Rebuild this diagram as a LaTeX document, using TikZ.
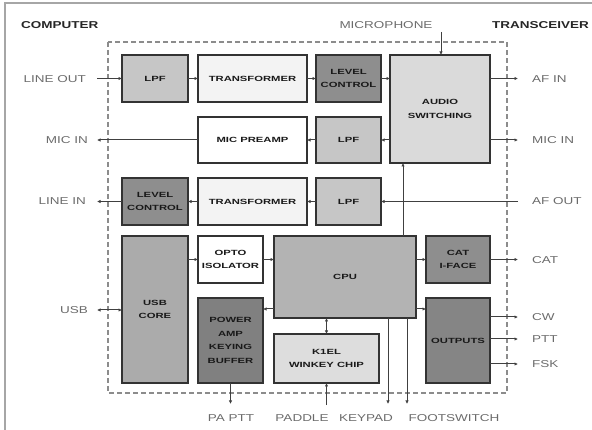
\documentclass[tikz,border=0pt]{standalone}
\usepackage{fontspec}
\setmainfont{Liberation Sans}
\newfontfamily\lblfont[FakeStretch=1.35]{Liberation Sans}
\newfontfamily\hdrfont[FakeStretch=1.35]{Liberation Sans Bold}
\newfontfamily\blkfont[FakeStretch=1.5]{Liberation Sans Bold}
\usetikzlibrary{arrows.meta, positioning}
\definecolor{lpfgray}{HTML}{C6C6C6}
\definecolor{trfgray}{HTML}{F3F3F3}
\definecolor{lvlgray}{HTML}{8E8E8E}
\definecolor{swgray}{HTML}{DADADA}
\definecolor{usbgray}{HTML}{ABABAB}
\definecolor{cpugray}{HTML}{B3B3B3}
\definecolor{pagray}{HTML}{808080}
\definecolor{wkgray}{HTML}{DDDDDD}
\definecolor{outgray}{HTML}{858585}
\tikzstyle{block} = [rectangle, draw=black!80, line width=1.6pt, inner sep=1pt, outer sep=0pt,
    anchor=north west, align=center, text=black!90, font=\blkfont\fontsize{7.5}{13.5}\selectfont]
\tikzstyle{narrow} = [minimum width=66pt]
\tikzstyle{wide} = [minimum width=109pt]
\tikzstyle{row} = [minimum height=47pt]
\tikzstyle{lbl} = [inner sep=0pt, text=black!58, font=\lblfont\fontsize{10}{12}\selectfont]
\tikzstyle{hdr} = [inner sep=0pt, text=black!85, font=\hdrfont\fontsize{10}{12}\selectfont]
\tikzstyle{arrow} = [line width=1pt, draw=black!75, -{Latex[length=3.5pt,width=3.5pt]}]
\tikzstyle{dblarrow} = [line width=1pt, draw=black!75, {Latex[length=3.5pt,width=3.5pt]}-{Latex[length=3.5pt,width=3.5pt]}]

\begin{document}
\begin{tikzpicture}[x=1pt, y=-1pt]
  \useasboundingbox (0,0) rectangle (592,430);
  \draw[black!35, line width=2pt] (5,430) -- (5,3) -- (592,3);
  \draw[black!45, line width=1.2pt, dash pattern=on 5pt off 3pt] (108,42) rectangle (507,393);

  \node (computer)    [hdr, anchor=west] at (21,25) {COMPUTER};
  \node (transceiver) [hdr, anchor=east] at (589,25) {TRANSCEIVER};
  \node (microphone)  [lbl] at (386,25) {MICROPHONE};

  \node (lpfa)  [block, narrow, row, fill=lpfgray] at (122,55) {LPF};
  \node (trfa)  [block, wide, row, fill=trfgray, right=10pt of lpfa] {TRANSFORMER};
  \node (lvla)  [block, narrow, row, minimum width=65pt, fill=lvlgray, right=9pt of trfa] {LEVEL\\CONTROL};
  \node (audsw) [block, minimum width=100pt, minimum height=108pt, fill=swgray] at (390,55) {AUDIO\\SWITCHING};

  \node (mpre)  [block, wide, minimum height=46pt, fill=white] at (198,117) {MIC PREAMP};
  \node (lpfb)  [block, minimum width=65pt, minimum height=46pt, fill=lpfgray, right=9pt of mpre] {LPF};

  \node (lvlb)  [block, narrow, row, fill=lvlgray] at (122,178) {LEVEL\\CONTROL};
  \node (trfb)  [block, wide, row, fill=trfgray, right=10pt of lvlb] {TRANSFORMER};
  \node (lpfc)  [block, minimum width=65pt, row, fill=lpfgray, right=9pt of trfb] {LPF};

  \node (usb)   [block, narrow, minimum height=147pt, fill=usbgray] at (122,236) {USB\\CORE};
  \node (opto)  [block, minimum width=65pt, row, fill=white] at (198,236) {OPTO\\ISOLATOR};
  \node (cpu)   [block, minimum width=142pt, minimum height=82pt, fill=cpugray] at (274,236) {CPU};
  \node (cat)   [block, minimum width=64pt, row, fill=lvlgray] at (426,236) {CAT\\I-FACE};
  \node (pamp)  [block, minimum width=65pt, minimum height=85pt, fill=pagray] at (198,298) {POWER\\AMP\\KEYING\\BUFFER};
  \node (wink)  [block, minimum width=105pt, minimum height=49pt, fill=wkgray] at (274,334) {K1EL\\WINKEY CHIP};
  \node (outs)  [block, minimum width=64pt, minimum height=85pt, fill=outgray] at (426,298) {OUTPUTS};

  \node (lblLineOut) [lbl, anchor=east] at (86,79) {LINE OUT};
  \node (lblMicL)    [lbl, anchor=east] at (88,140) {MIC IN};
  \node (lblLineIn)  [lbl, anchor=east] at (86,201) {LINE IN};
  \node (lblUsb)     [lbl, anchor=east] at (88,310) {USB};
  \node (lblAfIn)    [lbl, anchor=west] at (532,79) {AF IN};
  \node (lblMicR)    [lbl, anchor=west] at (532,140) {MIC IN};
  \node (lblAfOut)   [lbl, anchor=west] at (532,201) {AF OUT};
  \node (lblCat)     [lbl, anchor=west] at (532,260) {CAT};
  \node (lblCw)      [lbl, anchor=west] at (532,317) {CW};
  \node (lblPtt)     [lbl, anchor=west] at (532,339) {PTT};
  \node (lblFsk)     [lbl, anchor=west] at (532,364) {FSK};
  \node (lblPaPtt)   [lbl] at (231,418) {PA PTT};
  \node (lblPaddle)  [lbl] at (302,418) {PADDLE};
  \node (lblKeypad)  [lbl] at (366,418) {KEYPAD};
  \node (lblFoot)    [lbl] at (454,418) {FOOTSWITCH};

  \coordinate (lo)    at (97,78.5);
  \coordinate (micl)  at (97,140);
  \coordinate (linin) at (97,201.5);
  \coordinate (usbp)  at (97,310);
  \coordinate (afin)  at (518,78.5);
  \coordinate (micr)  at (518,140);
  \coordinate (afout) at (518,201.5);
  \coordinate (catp)  at (518,259.5);
  \coordinate (cwp)   at (518,317);
  \coordinate (pttp)  at (518,339);
  \coordinate (fskp)  at (518,364);
  \coordinate (micp)  at (441,32);
  \coordinate (swctl) at (403,236);
  \coordinate (pap)   at (230.5,404);
  \coordinate (padp)  at (326.5,405);
  \coordinate (keyp)  at (388,404);
  \coordinate (ftp)   at (407,404);

  \draw[arrow] (lo) -- (lpfa);
  \draw[arrow] (lpfa) -- (trfa);
  \draw[arrow] (trfa) -- (lvla);
  \draw[arrow] (lvla.east) -- (lvla.east -| audsw.west);
  \draw[arrow] (afin -| audsw.east) -- (afin);
  \draw[arrow] (micp) -- (micp |- audsw.north);

  \draw[arrow] (micr -| audsw.east) -- (micr);
  \draw[arrow] (lpfb -| audsw.west) -- (lpfb);
  \draw[arrow] (lpfb) -- (mpre);
  \draw[arrow] (mpre) -- (micl);

  \draw[arrow] (afout) -- (lpfc);
  \draw[arrow] (lpfc) -- (trfb);
  \draw[arrow] (trfb) -- (lvlb);
  \draw[arrow] (lvlb) -- (linin);
  \draw[arrow] (swctl) -- (swctl |- audsw.south);

  \draw[dblarrow] (usbp) -- (usbp -| usb.west);
  \draw[arrow] (opto -| usb.east) -- (opto);
  \draw[arrow] (opto) -- (opto -| cpu.west);
  \draw[arrow] ([yshift=9pt]cpu.south west) -- ([yshift=9pt]cpu.south west -| pamp.east);
  \draw[arrow] (cat -| cpu.east) -- (cat);
  \draw[arrow] (cat) -- (catp);
  \draw[arrow] ([yshift=9pt]cpu.south east) -- ([yshift=9pt]cpu.south east -| outs.west);
  \draw[arrow] (cwp -| outs.east) -- (cwp);
  \draw[arrow] (pttp -| outs.east) -- (pttp);
  \draw[arrow] (fskp -| outs.east) -- (fskp);

  \draw[dblarrow] (wink.north |- cpu.south) -- (wink.north);
  \draw[arrow] (padp) -- (wink);
  \draw[arrow] (pamp) -- (pap);
  \draw[arrow] (keyp |- cpu.south) -- (keyp);
  \draw[arrow] (ftp |- cpu.south) -- (ftp);
\end{tikzpicture}
\end{document}
